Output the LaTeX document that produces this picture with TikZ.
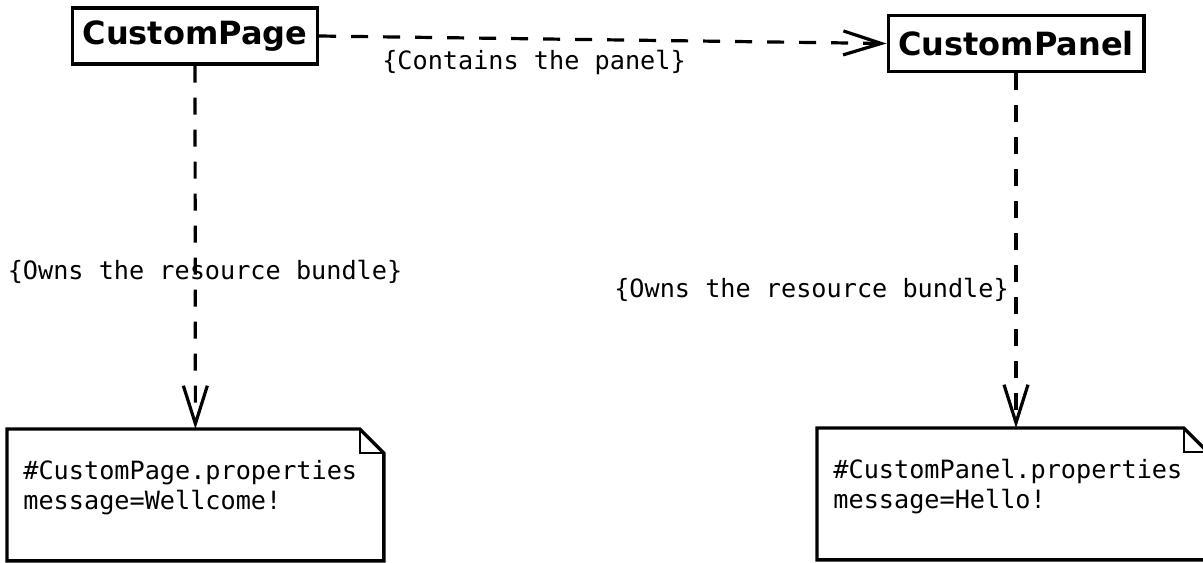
\documentclass[tikz,border=0pt]{standalone}
\usepackage{fontspec}
\setsansfont{DejaVu Sans}
\setmonofont{DejaVu Sans Mono}
\usetikzlibrary{arrows.meta}

\tikzset{
    classbox/.style = {draw, line width = 1.7pt, font = \sffamily\bfseries\fontsize{16}{19}\selectfont, inner xsep = 5pt, minimum height = 28pt},
    notebox/.style = {anchor = north west, align = left, inner xsep = 8pt, minimum height = 65.5pt, text depth = 25pt, font = \ttfamily\fontsize{12.6}{15}\selectfont},
    tag/.style = {font = \ttfamily\fontsize{12.6}{14}\selectfont},
    dep/.style = {line width = 1.6pt, dash pattern = on 8.5pt off 7.5pt, -{Straight Barb[length = 19pt, width = 12pt]}}
}

\begin{document}
\begin{tikzpicture}[x = 0.5pt, y = -0.5pt]
        \useasboundingbox (0, 0) rectangle (1203, 562);
        \node [classbox] (page) at (195, 36) {CustomPage};
        \node [classbox] (panel) at (1016, 43.5) {CustomPanel};
        \node [notebox, text width = 172pt] (pagenote) at (7, 429) {\#CustomPage.properties\\message=Wellcome!};
        \node [notebox, text width = 179pt] (panelnote) at (817, 428) {\#CustomPanel.properties\\message=Hello!};
        \foreach \n in {pagenote, panelnote} {
            \draw [line width = 1.7pt] (\n.north west) -- ([xshift = -12pt]\n.north east) -- ([yshift = -12pt]\n.north east) -- (\n.south east) -- (\n.south west) -- cycle;
            \draw [line width = 0.75pt] ([xshift = -12pt]\n.north east) |- ([yshift = -12pt]\n.north east);
        }
        \draw [dep] (page.east) -- (panel.west);
        \draw [dep] (page.south) -- (pagenote.north);
        \draw [dep] (panel.south) -- (panel.south |- panelnote.north);
        \node [tag] (contains) at (534, 62) {\{Contains the panel\}};
        \node [tag] (ownsl) at (205, 272) {\{Owns the resource bundle\}};
        \node [tag] (ownsr) at (811.5, 290) {\{Owns the resource bundle\}};
    \end{tikzpicture}
\end{document}
